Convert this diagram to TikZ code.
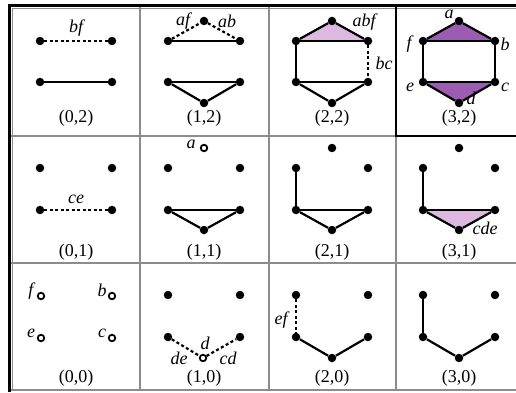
\documentclass[tikz,border=0pt]{standalone}
\usepackage{fontspec}
\setmainfont{Liberation Serif}
\usetikzlibrary{backgrounds}
\definecolor{darkpurp}{HTML}{9C5CB2}
\definecolor{lightpurp}{HTML}{DDB9E2}
\definecolor{gridgray}{HTML}{8C8C8C}
\begin{document}
\begin{tikzpicture}[x=1pt,y=-1pt,
  dot/.style={circle,fill=black,inner sep=0pt,minimum size=8.5pt},
  odot/.style={circle,draw=black,line width=1.8pt,fill=white,inner sep=0pt,minimum size=6.5pt},
  edge/.style={line width=2.2pt,black},
  dedge/.style={line width=2.2pt,black,dash pattern=on 3pt off 2.5pt},
  lab/.style={font=\fontsize{18}{20}\selectfont,inner sep=0pt},
  vl/.style={font=\fontsize{18}{20}\selectfont\itshape,inner sep=0pt},
  gridline/.style={draw=gridgray,line width=1.3pt},
  frame/.style={draw=black,line width=3pt},
  ]
\useasboundingbox (0,0) rectangle (516,393);
\begin{scope}[on background layer]
  \fill[white] (0,0) rectangle (516,393);
\end{scope}
% ---------- grid ----------
\draw[gridline] (140,6) -- (140,390);
\draw[gridline] (269,6) -- (269,390);
\draw[gridline] (396,6) -- (396,390);
\draw[gridline] (10,136) -- (516,136);
\draw[gridline] (10,263) -- (516,263);
\draw[gridline] (10,390) -- (516,390);
\draw[gridline,line width=0.8pt] (12.5,8.5) -- (12.5,390);
\draw[gridline,line width=0.8pt] (12.5,8.5) -- (516,8.5);
\draw[frame] (9.5,392) -- (9.5,6) -- (516,6);
\draw[draw=black,line width=2.6pt] (396,6) -- (396,136) -- (516,136);
% ================= row 2 =================
% (0,2)
\node[dot] (f02) at (40,41) {};
\node[dot] (b02) at (112,41) {};
\node[dot] (e02) at (40,82) {};
\node[dot] (c02) at (112,82) {};
\draw[dedge] (f02) -- (b02);
\draw[edge] (e02) -- (c02);
\node[vl] (l02bf) at (76,28) {bf};
\node[lab] (t02) at (76,118) {(0,2)};
% (1,2)
\node[dot] (a12) at (204,21) {};
\node[dot] (f12) at (168,41) {};
\node[dot] (b12) at (240,41) {};
\node[dot] (e12) at (168,82) {};
\node[dot] (c12) at (240,82) {};
\node[dot] (d12) at (204,103) {};
\draw[dedge] (f12) -- (a12);
\draw[dedge] (a12) -- (b12);
\draw[edge] (f12) -- (b12);
\draw[edge] (e12) -- (c12);
\draw[edge] (e12) -- (d12) -- (c12);
\node[vl] (l12af) at (183,21) {af};
\node[vl] (l12ab) at (227,21) {ab};
\node[lab] (t12) at (204,118) {(1,2)};
% (2,2)
\node[dot] (a22) at (332,21) {};
\node[dot] (f22) at (296,41) {};
\node[dot] (b22) at (368,41) {};
\node[dot] (e22) at (296,82) {};
\node[dot] (c22) at (368,82) {};
\node[dot] (d22) at (332,103) {};
\begin{scope}[on background layer]
  \fill[lightpurp] (a22.center) -- (f22.center) -- (b22.center) -- cycle;
\end{scope}
\draw[edge] (f22) -- (a22);
\draw[edge] (a22) -- (b22);
\draw[edge] (f22) -- (b22);
\draw[edge] (f22) -- (e22);
\draw[dedge] (b22) -- (c22);
\draw[edge] (e22) -- (c22);
\draw[edge] (e22) -- (d22) -- (c22);
\node[vl] (l22abf) at (364,22) {abf};
\node[vl] (l22bc) at (384,63) {bc};
\node[lab] (t22) at (332,118) {(2,2)};
% (3,2)
\node[dot] (a32) at (459,21) {};
\node[dot] (f32) at (423,41) {};
\node[dot] (b32) at (495,41) {};
\node[dot] (e32) at (423,82) {};
\node[dot] (c32) at (495,82) {};
\node[dot] (d32) at (459,103) {};
\begin{scope}[on background layer]
  \fill[darkpurp] (a32.center) -- (f32.center) -- (b32.center) -- cycle;
  \fill[darkpurp] (e32.center) -- (d32.center) -- (c32.center) -- cycle;
\end{scope}
\draw[edge] (f32) -- (a32);
\draw[edge] (a32) -- (b32);
\draw[edge] (f32) -- (b32);
\draw[edge] (f32) -- (e32);
\draw[edge] (b32) -- (c32);
\draw[edge] (e32) -- (c32);
\draw[edge] (e32) -- (d32) -- (c32);
\node[vl] (l32a) at (449,14) {a};
\node[vl] (l32f) at (409,44) {f};
\node[vl] (l32b) at (505,44) {b};
\node[vl] (l32e) at (410,87) {e};
\node[vl] (l32c) at (505,87) {c};
\node[vl] (l32d) at (471,98) {d};
\node[lab] (t32) at (459,118) {(3,2)};
% ================= row 1 =================
% (0,1)
\node[dot] (f01) at (40,168) {};
\node[dot] (b01) at (112,168) {};
\node[dot] (e01) at (40,210) {};
\node[dot] (c01) at (112,210) {};
\draw[dedge] (e01) -- (c01);
\node[vl] (l01ce) at (76,199) {ce};
\node[lab] (t01) at (76,252) {(0,1)};
% (1,1)
\node[odot] (a11) at (204,148) {};
\node[dot] (f11) at (168,168) {};
\node[dot] (b11) at (240,168) {};
\node[dot] (e11) at (168,210) {};
\node[dot] (c11) at (240,210) {};
\node[dot] (d11) at (204,230) {};
\draw[edge] (e11) -- (c11);
\draw[edge] (e11) -- (d11) -- (c11);
\node[vl] (l11a) at (191,144) {a};
\node[lab] (t11) at (204,252) {(1,1)};
% (2,1)
\node[dot] (a21) at (332,148) {};
\node[dot] (f21) at (296,168) {};
\node[dot] (b21) at (368,168) {};
\node[dot] (e21) at (296,210) {};
\node[dot] (c21) at (368,210) {};
\node[dot] (d21) at (332,230) {};
\draw[edge] (f21) -- (e21);
\draw[edge] (e21) -- (c21);
\draw[edge] (e21) -- (d21) -- (c21);
\node[lab] (t21) at (332,252) {(2,1)};
% (3,1)
\node[dot] (a31) at (459,148) {};
\node[dot] (f31) at (423,168) {};
\node[dot] (b31) at (495,168) {};
\node[dot] (e31) at (423,210) {};
\node[dot] (c31) at (495,210) {};
\node[dot] (d31) at (459,230) {};
\begin{scope}[on background layer]
  \fill[lightpurp] (e31.center) -- (d31.center) -- (c31.center) -- cycle;
\end{scope}
\draw[edge] (f31) -- (e31);
\draw[edge] (e31) -- (c31);
\draw[edge] (e31) -- (d31) -- (c31);
\node[vl] (l31cde) at (485,228) {cde};
\node[lab] (t31) at (459,252) {(3,1)};
% ================= row 0 =================
% (0,0)
\node[odot] (f00) at (41,296) {};
\node[odot] (b00) at (112,296) {};
\node[odot] (e00) at (41,338) {};
\node[odot] (c00) at (112,338) {};
\node[vl] (l00f) at (31,291) {f};
\node[vl] (l00b) at (102,290) {b};
\node[vl] (l00e) at (31,333) {e};
\node[vl] (l00c) at (102,333) {c};
\node[lab] (t00) at (76,378) {(0,0)};
% (1,0)
\node[dot] (f10) at (168,295) {};
\node[dot] (b10) at (240,295) {};
\node[dot] (e10) at (168,337) {};
\node[dot] (c10) at (240,337) {};
\node[odot] (d10) at (203,358) {};
\draw[dedge] (e10) -- (d10);
\draw[dedge] (d10) -- (c10);
\node[vl] (l10d) at (205,343) {d};
\node[vl] (l10de) at (179,358) {de};
\node[vl] (l10cd) at (228,358) {cd};
\node[lab] (t10) at (204,378) {(1,0)};
% (2,0)
\node[dot] (f20) at (296,295) {};
\node[dot] (b20) at (368,295) {};
\node[dot] (e20) at (296,337) {};
\node[dot] (c20) at (368,337) {};
\node[dot] (d20) at (332,358) {};
\draw[dedge] (f20) -- (e20);
\draw[edge] (e20) -- (d20) -- (c20);
\node[vl] (l20ef) at (281,320) {ef};
\node[lab] (t20) at (332,378) {(2,0)};
% (3,0)
\node[dot] (f30) at (423,295) {};
\node[dot] (b30) at (495,295) {};
\node[dot] (e30) at (423,337) {};
\node[dot] (c30) at (495,337) {};
\node[dot] (d30) at (459,358) {};
\draw[edge] (f30) -- (e30);
\draw[edge] (e30) -- (d30) -- (c30);
\node[lab] (t30) at (459,378) {(3,0)};
\end{tikzpicture}
\end{document}
